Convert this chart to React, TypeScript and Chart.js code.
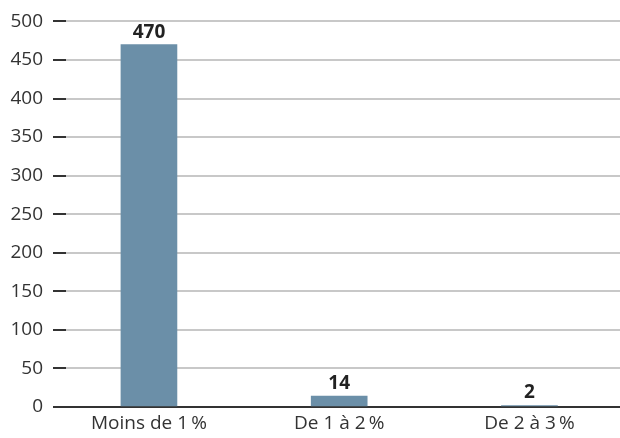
import React, { useEffect, useRef } from "react";
import { Chart, registerables } from "chart.js";

Chart.register(...registerables);

const categories = ["Moins de 1\u2009%", "De 1 à 2\u2009%", "De 2 à 3\u2009%"];
const values = [470, 14, 2];
const yTicks = [0, 50, 100, 150, 200, 250, 300, 350, 400, 450, 500];

const FONT = "'Open Sans', 'Noto Sans', sans-serif";
const TEXT = "#333333";

const barLabels = {
  id: "barLabels",
  afterDatasetsDraw(chart: any) {
    const ctx = chart.ctx;
    const meta = chart.getDatasetMeta(0);
    ctx.save();
    ctx.font = `bold 19px ${FONT}`;
    ctx.fillStyle = "#222222";
    ctx.textAlign = "center";
    ctx.textBaseline = "alphabetic";
    meta.data.forEach((el: any, i: number) => {
      ctx.fillText(String(values[i]), el.x, el.y - 7);
    });
    ctx.restore();
  },
};

export default function App() {
  const ref = useRef<HTMLCanvasElement | null>(null);
  useEffect(() => {
    if (!ref.current) return;
    const chart = new Chart(ref.current, {
      type: "bar",
      data: {
        datasets: [
          {
            data: values.map((v, i) => ({ x: i, y: v })),
            backgroundColor: "#6b8fa8",
            barThickness: 56,
          },
        ],
      },
      options: {
        animation: false,
        responsive: false,
        maintainAspectRatio: false,
        layout: { padding: { top: 12, left: 0, right: 0, bottom: 0 } },
        plugins: { legend: { display: false }, tooltip: { enabled: false } },
        scales: {
          x: {
            type: "linear",
            offset: false,
            bounds: "data",
            min: -0.436,
            max: 2.476,
            afterBuildTicks: (scale: any) => {
              scale.ticks = categories.map((_, i) => ({ value: i }));
            },
            afterFit: (scale: any) => {
              scale.height = 31;
            },
            grid: { display: false, drawTicks: false },
            border: { display: true, color: "#333333", width: 2 },
            ticks: {
              padding: 5,
              color: TEXT,
              font: { family: FONT, size: 19 },
              maxRotation: 0,
              autoSkip: false,
              callback: (v: any) => categories[v] ?? "",
            },
          },
          y: {
            min: 0,
            max: 500,
            afterBuildTicks: (scale: any) => {
              scale.ticks = yTicks.map((v) => ({ value: v }));
            },
            afterFit: (scale: any) => {
              scale.width = 66;
            },
            border: { display: false },
            grid: {
              color: (c: any) => (c.tick && c.tick.value === 0 ? "#333333" : "#c8c8c8"),
              lineWidth: 2,
              tickColor: "#333333",
              tickLength: 13,
              tickWidth: 2,
            },
            ticks: {
              padding: 10,
              color: TEXT,
              font: { family: FONT, size: 19 },
            },
          },
        },
      },
      plugins: [barLabels],
    });
    return () => chart.destroy();
  }, []);
  return (
    <div style={{ position: "absolute", left: 0, top: 0, width: 620, height: 438, background: "#fff" }}>
      <canvas ref={ref} width={620} height={438} style={{ width: 620, height: 438 }} />
    </div>
  );
}
